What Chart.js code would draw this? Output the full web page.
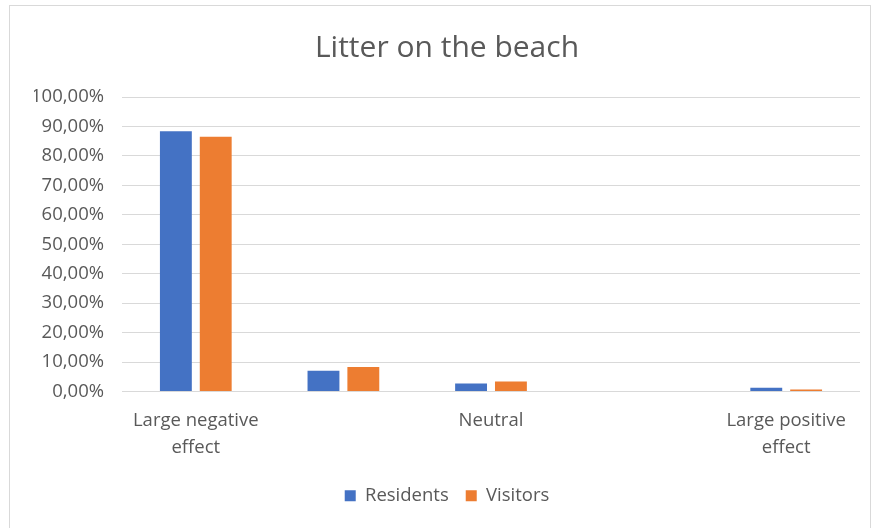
<!DOCTYPE html>
<html>
<head>
<meta charset="utf-8">
<script src="https://cdn.jsdelivr.net/npm/chart.js@4"></script>
<style>
  html, body { margin: 0; padding: 0; background: #fff; }
  #wrap { position: relative; width: 873px; height: 528px; }
  #frame { position: absolute; left: 9px; top: 5px; width: 860px; height: 540px; border: 1px solid #d9d9d9; }
  canvas { position: absolute; left: 0; top: 0; }
</style>
</head>
<body>
<div id="wrap">
  <div id="frame"></div>
  <canvas id="chart" width="873" height="528"></canvas>
</div>
<script>
const categories = [["Large negative", "effect"], "", "Neutral", "", ["Large positive", "effect"]];
const residents = [88.4, 7.0, 2.7, 0, 1.3];
const visitors = [86.5, 8.3, 3.4, 0, 0.7];
const textColor = "#595959";
const fontFamily = "'Open Sans', sans-serif";

const ctx = document.getElementById("chart").getContext("2d");
new Chart(ctx, {
  type: "bar",
  data: {
    labels: categories,
    datasets: [
      { label: "Residents", data: residents, backgroundColor: "#4472C4" },
      { label: "Visitors", data: visitors, backgroundColor: "#ED7D31" }
    ]
  },
  options: {
    responsive: false,
    animation: false,
    layout: { padding: { left: 34, right: 13, top: 15, bottom: 13 } },
    datasets: { bar: { categoryPercentage: 0.54, barPercentage: 0.8 } },
    plugins: {
      title: {
        display: true,
        text: "Litter on the beach",
        color: textColor,
        font: { family: fontFamily, size: 30, weight: "normal" },
        padding: { top: 15, bottom: 31 }
      },
      legend: {
        position: "bottom",
        labels: {
          color: textColor,
          font: { family: fontFamily, size: 18.5 },
          boxWidth: 11,
          boxHeight: 11,
          padding: 17
        }
      },
      tooltip: { enabled: false }
    },
    scales: {
      x: {
        grid: { display: false },
        border: { display: false },
        ticks: {
          color: textColor,
          font: { family: fontFamily, size: 18.5, lineHeight: 1.46 },
          maxRotation: 0,
          autoSkip: false,
          padding: 8
        }
      },
      y: {
        min: 0,
        max: 100,
        grid: { color: "#d9d9d9", drawTicks: false },
        border: { display: false },
        afterFit: (scale) => { scale.width = 88; },
        ticks: {
          stepSize: 10,
          color: textColor,
          font: { family: fontFamily, size: 18.5 },
          padding: 18,
          callback: (v) => v.toFixed(2).replace(".", ",") + "%"
        }
      }
    }
  }
});
</script>
</body>
</html>
